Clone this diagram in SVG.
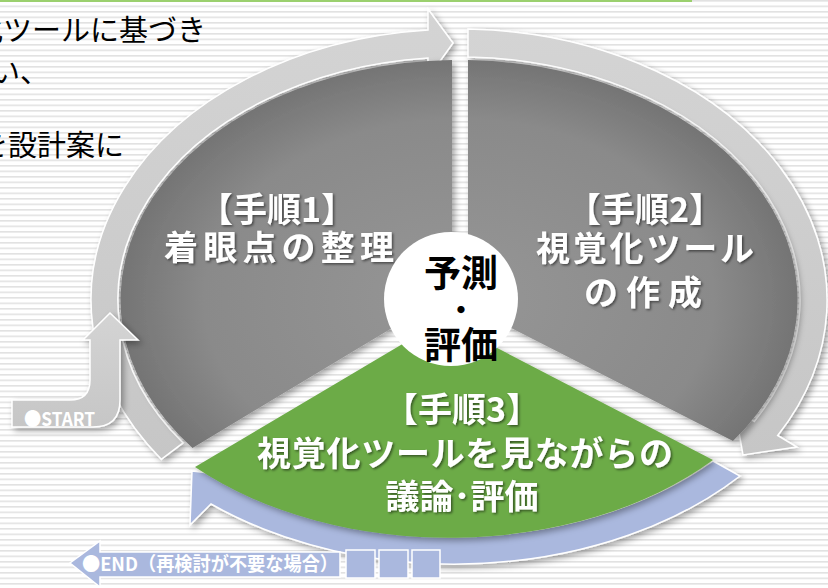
<svg xmlns="http://www.w3.org/2000/svg" width="828" height="588" viewBox="0 0 828 588">
  <defs>
    <pattern id="stripes" width="8" height="5.5" patternUnits="userSpaceOnUse">
      <rect width="8" height="5.5" fill="#ffffff"/>
      <rect y="0" width="8" height="1.6" fill="#e2e2e2"/>
    </pattern>
    <filter id="shadow" x="-10%" y="-10%" width="125%" height="125%">
      <feDropShadow dx="3" dy="3" stdDeviation="3" flood-color="#000" flood-opacity="0.35"/>
    </filter>
    <filter id="tshadow" x="-10%" y="-20%" width="125%" height="150%">
      <feDropShadow dx="1.5" dy="1.5" stdDeviation="1" flood-color="#000" flood-opacity="0.5"/>
    </filter>
    <radialGradient id="darkGrad" gradientUnits="userSpaceOnUse" cx="459" cy="300" r="340" gradientTransform="translate(459 300) scale(1 0.71) translate(-459 -300)">
      <stop offset="0" stop-color="#969696"/>
      <stop offset="0.75" stop-color="#8a8a8a"/>
      <stop offset="1" stop-color="#747474"/>
    </radialGradient>
    <linearGradient id="bandGrad" x1="0" y1="0" x2="0" y2="1">
      <stop offset="0" stop-color="#d4d4d4"/>
      <stop offset="1" stop-color="#c6c6c6"/>
    </linearGradient>
  </defs>
  <style>
    .band { fill: url(#bandGrad); stroke: #ffffff; stroke-width: 1.5; filter: url(#shadow); }
    .blue { fill: #aab8de; stroke: #ffffff; stroke-width: 1.5; }
    .dark { fill: url(#darkGrad); filter: url(#shadow); }
    .green { fill: #6cab47; filter: url(#shadow); }
    .lbl { font-family: "Noto Sans CJK JP", "Noto Sans", sans-serif; font-weight: bold; font-size: 34px; fill: #ffffff; text-anchor: middle; filter: url(#tshadow); }
    .ctr { font-family: "Noto Sans CJK JP", "Noto Sans", sans-serif; font-weight: bold; font-size: 37px; fill: #000000; text-anchor: middle; }
    .body { font-family: "Noto Sans CJK JP", "Noto Sans", sans-serif; font-size: 29px; fill: #000000; }
    .small { font-family: "Noto Sans CJK JP", "Liberation Sans", sans-serif; font-weight: bold; fill: #ffffff; }
  </style>

  <rect width="828" height="588" fill="url(#stripes)"/>
  <rect x="0" y="0" width="692" height="2" fill="#9bd06e"/>

  <g id="intro-text">
    <text class="body" x="-84" y="41">視覚化ツールに基づき</text>
    <text class="body" x="-9" y="83">い、</text>
    <text class="body" x="-21" y="156">を設計案に</text>
  </g>

  <g id="connectors">
    <path class="blue" style="filter:url(#shadow)" d="M713,461 A357,238 0 0 1 230,485 L242,477 L192,471 L190,525 L211,504 A383,264 0 0 0 740,476 Z"/>
    <path class="band" d="M161.3,459.3 A368,271 0 0 1 428,30 L428,9 L453,43 L428,78 L428,58 A341,243 0 0 0 183.1,442.9 Z"/>
    <path class="band" d="M468,29 A368,271 0 0 1 777.7,435.5 L796.9,447 L743,455 L735.1,410 L754.3,421.5 A341,243 0 0 0 468,57 Z"/>
  </g>

  <g id="step3">
    <path class="green" d="M443,320 L195,467 A357,238 0 0 0 713,460 Z"/>
  </g>
  <g id="step1">
    <path class="dark" d="M452,60 L452,292 L192.5,448 A338,240 0 0 1 452,60 Z"/>
    <text class="lbl" x="277" y="222">【手順1】</text>
    <text class="lbl" x="279" y="260" textLength="230" lengthAdjust="spacing">着眼点の整理</text>
  </g>
  <g id="step2">
    <path class="dark" d="M468,60 A338,240 0 0 1 733,441 L468,306 Z"/>
    <text class="lbl" x="645" y="222">【手順2】</text>
    <text class="lbl" x="645" y="261" textLength="218" lengthAdjust="spacing">視覚化ツール</text>
    <text class="lbl" x="643" y="305" textLength="118" lengthAdjust="spacing">の作成</text>
  </g>
  <g id="step3-text">
    <text class="lbl" x="462" y="422">【手順3】</text>
    <text class="lbl" x="465" y="466" textLength="416" lengthAdjust="spacing">視覚化ツールを見ながらの</text>
    <text class="lbl" x="462" y="509">議論･評価</text>
  </g>

  <g id="start">
    <path class="band" d="M12,400 L70,400 Q90,400 90,380 L90,340 L83,340 L110,313 L138,340 L120,340 L120,400 Q120,427 93,427 L12,427 Z"/>
    <text class="small" x="24" y="426" font-size="19" textLength="71" lengthAdjust="spacingAndGlyphs">●START</text>
  </g>

  <g id="center">
    <circle cx="451" cy="299" r="67" fill="#ffffff"/>
    <text class="ctr" x="461" y="287">予測</text>
    <text class="ctr" x="461" y="324">･</text>
    <text class="ctr" x="461" y="359">評価</text>
  </g>

  <g id="end">
    <path class="blue" d="M340,552 L100,552 L100,541 L70,563 L100,587 L100,577 L340,577 Z"/>
    <text class="small" x="82" y="571" font-size="19" textLength="256" lengthAdjust="spacingAndGlyphs">●END（再検討が不要な場合）</text>
    <rect class="blue" x="346" y="550" width="29" height="28"/>
    <rect class="blue" x="379" y="550" width="29" height="28"/>
    <rect class="blue" x="412" y="550" width="28" height="28"/>
  </g>
</svg>
